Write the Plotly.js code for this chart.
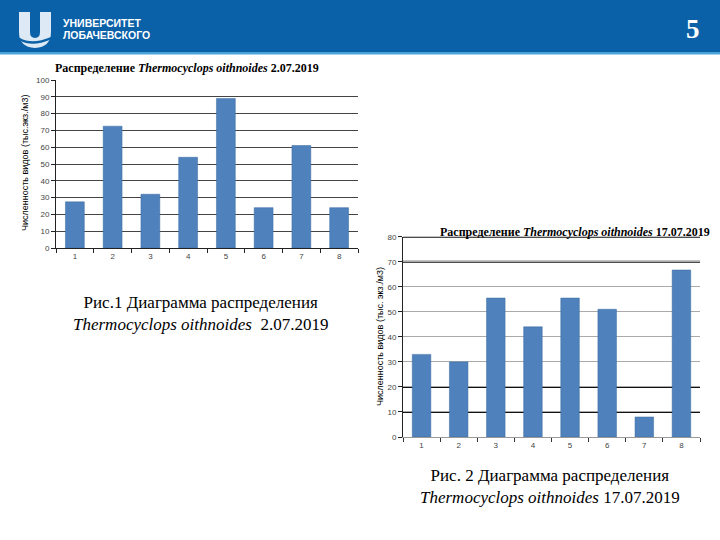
<!DOCTYPE html>
<html>
<head>
<meta charset="utf-8">
<script src="https://cdn.plot.ly/plotly-3.0.1.min.js"></script>
<style>html,body{margin:0;padding:0;background:#fff}</style>
</head>
<body>
<div id="chart" style="width:720px;height:540px"></div>
<script>
// ---- data ----
const categories = ['1','2','3','4','5','6','7','8'];
const values1 = [27.5, 72.5, 32, 54, 89, 24, 61, 24];
const values2 = [33, 30, 55.5, 44, 55.5, 51, 8, 66.7];
const title1 = 'Распределение <i>Thermocyclops oithnoides</i> 2.07.2019';
const title2 = 'Распределение <i>Thermocyclops oithnoides</i> 17.07.2019';
const yTitle1 = 'Численность видов (тыс.экз./м3)';
const yTitle2 = 'Численность видов (тыс. экз./м3)';
const caption1 = 'Рис.1 Диаграмма распределения<br><i>Thermocyclops oithnoides</i>  2.07.2019';
const caption2 = 'Рис. 2 Диаграмма распределения<br><i>Thermocyclops oithnoides</i> 17.07.2019';
const thickGrid2 = [10, 20, 70, 80];
const slideNumber = '5';
const uniLines = ['УНИВЕРСИТЕТ', 'ЛОБАЧЕВСКОГО'];

// ---- helpers (pixel -> paper) ----
const W = 720, H = 540;
const px = x => x / W;
const py = y => 1 - y / H;

const barColor = '#4f81bd';
const headerBlue = '#0b61a8';
const SERIF = '"Liberation Serif", "DejaVu Serif Condensed", "DejaVu Serif", serif';
const SANS = '"Liberation Sans", Arial, sans-serif';

const traces = [
  {type:'bar', x:categories, y:values1, xaxis:'x', yaxis:'y', marker:{color:barColor, line:{color:'#3a6a9f', width:0.5}}},
  {type:'bar', x:categories, y:values2, xaxis:'x2', yaxis:'y2', marker:{color:barColor, line:{color:'#3a6a9f', width:0.5}}}
];

const tickFont = {family:SANS, size:8, color:'#444'};

const P = (x,y) => px(x).toFixed(5) + ',' + py(y).toFixed(5);
function logoPath() {
  return 'M' + P(19,12) + ' L' + P(30,12) + ' L' + P(30,32) + ' Q' + P(30,38) + ' ' + P(35,38) + ' Q' + P(40,38) + ' ' + P(40,32) +
         ' L' + P(40,12) + ' L' + P(51,12) + ' L' + P(51,32) + ' Q' + P(51,47) + ' ' + P(35,48) + ' Q' + P(19,47) + ' ' + P(19,32) + ' Z';
}
function swooshPath() {
  return 'M' + P(20,38) + ' Q' + P(32,45) + ' ' + P(51,37) + ' L' + P(51,39.5) + ' Q' + P(32,47.5) + ' ' + P(20,40.5) + ' Z';
}

const shapes = [
  {type:'rect', xref:'paper', yref:'paper', x0:0, x1:1, y0:py(52), y1:1, fillcolor:headerBlue, line:{width:0}, layer:'below'},
  {type:'rect', xref:'paper', yref:'paper', x0:0, x1:1, y0:py(54.5), y1:py(52), fillcolor:'#4aa3d8', line:{width:0}, layer:'below'},
  {type:'path', xref:'paper', yref:'paper', path:logoPath(), fillcolor:'#dde9f5', line:{width:0}},
  {type:'path', xref:'paper', yref:'paper', path:swooshPath(), fillcolor:headerBlue, line:{width:0}}
];
thickGrid2.forEach(v => shapes.push({type:'line', xref:'x2 domain', yref:'y2', x0:0, x1:1, y0:v, y1:v, line:{color:'#111', width:2}, layer:'below'}));

const annotations = [
  {text:title1, xref:'paper', yref:'paper', x:px(187), y:py(68), xanchor:'center', yanchor:'middle', showarrow:false,
   font:{family:SERIF, size:12, color:'#000', weight:'bold'}},
  {text:title2, xref:'paper', yref:'paper', x:px(575), y:py(232), xanchor:'center', yanchor:'middle', showarrow:false,
   font:{family:SERIF, size:12, color:'#000', weight:'bold'}},
  {text:yTitle1, xref:'paper', yref:'paper', x:px(25), y:py(163), textangle:-90, xanchor:'center', yanchor:'middle', showarrow:false,
   font:{family:SANS, size:9, color:'#000'}},
  {text:yTitle2, xref:'paper', yref:'paper', x:px(380), y:py(337), textangle:-90, xanchor:'center', yanchor:'middle', showarrow:false,
   font:{family:SANS, size:9, color:'#000'}},
  {text:caption1, xref:'paper', yref:'paper', x:px(200), y:py(313), xanchor:'center', yanchor:'middle', showarrow:false, align:'center',
   font:{family:SERIF, size:17, color:'#000'}},
  {text:caption2, xref:'paper', yref:'paper', x:px(550), y:py(486), xanchor:'center', yanchor:'middle', showarrow:false, align:'center',
   font:{family:SERIF, size:17, color:'#000'}},
  {text:uniLines[0], xref:'paper', yref:'paper', x:px(61), y:py(23), xanchor:'left', yanchor:'middle', showarrow:false,
   font:{family:SANS, size:10.5, color:'#fff', weight:'bold'}},
  {text:uniLines[1], xref:'paper', yref:'paper', x:px(61), y:py(35), xanchor:'left', yanchor:'middle', showarrow:false,
   font:{family:SANS, size:10.5, color:'#fff', weight:'bold'}},
  {text:slideNumber, xref:'paper', yref:'paper', x:px(693), y:py(29), xanchor:'center', yanchor:'middle', showarrow:false,
   font:{family:SERIF, size:27, color:'#fff', weight:'bold'}}
];

const layout = {
  width:W, height:H, autosize:false,
  margin:{l:0, r:0, t:0, b:0, pad:0},
  paper_bgcolor:'#fff', plot_bgcolor:'rgba(0,0,0,0)',
  showlegend:false, bargap:0.5,
  xaxis:{domain:[px(56), px(358)], anchor:'y', type:'category', showline:true, linecolor:'#222', linewidth:1,
         ticks:'outside', tickson:'boundaries', ticklen:4, tickcolor:'#222', tickfont:tickFont, showgrid:false, fixedrange:true},
  yaxis:{domain:[py(248), py(80)], anchor:'x', range:[0,100], dtick:10, showline:true, linecolor:'#222', linewidth:1,
         ticks:'outside', ticklen:4, tickcolor:'#222', tickfont:tickFont, showgrid:true, gridcolor:'#444', gridwidth:1, zeroline:false, fixedrange:true},
  xaxis2:{domain:[px(403), px(700)], anchor:'y2', type:'category', showline:true, linecolor:'#999', linewidth:1,
         ticks:'outside', tickson:'boundaries', ticklen:4, tickcolor:'#333', tickfont:tickFont, showgrid:false, fixedrange:true},
  yaxis2:{domain:[py(437), py(236.7)], anchor:'x2', range:[0,80], dtick:10, showline:true, linecolor:'#222', linewidth:1,
         ticks:'outside', ticklen:4, tickcolor:'#222', tickfont:tickFont, showgrid:true, gridcolor:'#aaa', gridwidth:1, zeroline:false, fixedrange:true},
  shapes:shapes,
  annotations:annotations
};

Plotly.newPlot('chart', traces, layout, {displayModeBar:false, staticPlot:true});
</script>
</body>
</html>
